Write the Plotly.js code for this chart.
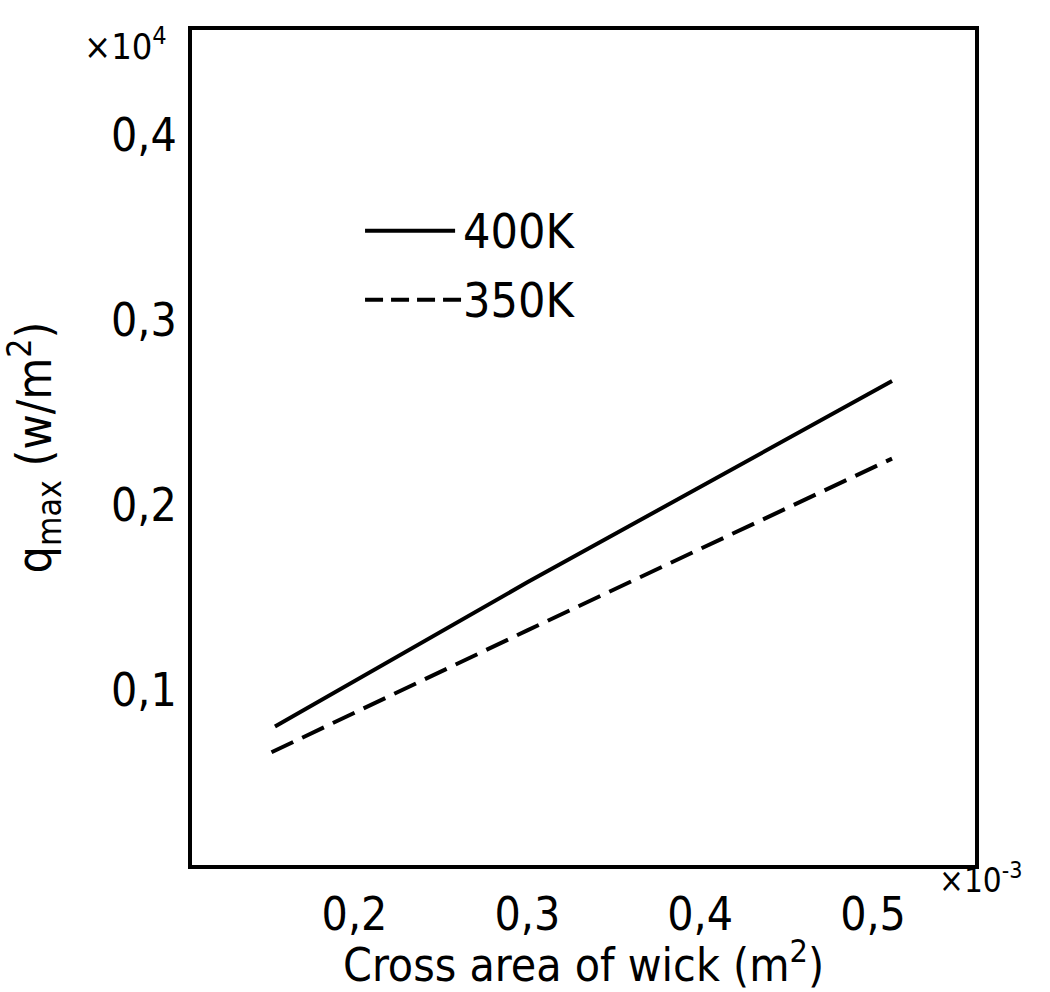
<!DOCTYPE html>
<html>
<head>
<meta charset="utf-8">
<script src="https://cdn.plot.ly/plotly-3.0.1.min.js"></script>
<style>html,body{margin:0;padding:0;background:#fff;}#chart{width:1050px;height:992px;}</style>
</head>
<body>
<div id="chart"></div>
<script>
// Data (x in 10^-3 m^2, y in 10^4 W/m^2)
const seriesNames = ["400K", "350K"];
const x400 = [0.154, 0.30, 0.511];
const y400 = [0.080, 0.158, 0.267];
const x350 = [0.152, 0.30, 0.511];
const y350 = [0.066, 0.132, 0.225];
const xTickVals = [0.2, 0.3, 0.4, 0.5];
const xTickText = ["0,2", "0,3", "0,4", "0,5"];
const yTickVals = [0.1, 0.2, 0.3, 0.4];
const yTickText = ["0,1", "0,2", "0,3", "0,4"];

const FONT = "DejaVu Sans Condensed, DejaVu Sans, sans-serif";

const traces = [
  {x: x400, y: y400, mode: "lines", name: seriesNames[0],
   line: {color: "#000", width: 4}, showlegend: false},
  {x: x350, y: y350, mode: "lines", name: seriesNames[1],
   line: {color: "#000", width: 4, dash: "24px,10px"}, showlegend: false}
];

const layout = {
  width: 1050, height: 992,
  margin: {l: 192, r: 75, t: 30, b: 127},
  paper_bgcolor: "#fff", plot_bgcolor: "#fff",
  font: {family: FONT, color: "#000", size: 32},
  xaxis: {
    range: [0.106, 0.559], showgrid: false, zeroline: false,
    showline: true, mirror: true, linecolor: "#000", linewidth: 4,
    ticks: "", tickvals: xTickVals, ticktext: xTickText,
    tickfont: {size: 46, family: FONT}, ticklabelstandoff: 6,
    title: {text: "Cross area of wick (m<sup>2</sup>)", font: {size: 46, family: FONT}, standoff: 8}
  },
  yaxis: {
    range: [0.005, 0.457], showgrid: false, zeroline: false,
    showline: true, mirror: true, linecolor: "#000", linewidth: 4,
    ticks: "", tickvals: yTickVals, ticktext: yTickText,
    tickfont: {size: 46, family: FONT}, ticklabelstandoff: 2,
    title: {text: "q<sub>max</sub> (w/m<sup>2</sup>)", font: {size: 48, family: FONT}, standoff: 50}
  },
  shapes: [
    {type: "line", xref: "paper", yref: "paper", x0: 0.221, x1: 0.336, y0: 0.7595, y1: 0.7595,
     line: {color: "#000", width: 4}},
    {type: "line", xref: "paper", yref: "paper", x0: 0.221, x1: 0.345, y0: 0.677, y1: 0.677,
     line: {color: "#000", width: 4, dash: "18px,8px"}}
  ],
  annotations: [
    {xref: "paper", yref: "paper", x: 0.343, y: 0.7595, xanchor: "left", yanchor: "middle",
     text: seriesNames[0], showarrow: false, font: {size: 48, family: FONT}},
    {xref: "paper", yref: "paper", x: 0.343, y: 0.677, xanchor: "left", yanchor: "middle",
     text: seriesNames[1], showarrow: false, font: {size: 48, family: FONT}},
    {xref: "paper", yref: "paper", x: -0.03, y: 1.0, xanchor: "right", yanchor: "middle",
     text: "×10<sup>4</sup>", showarrow: false, font: {size: 36, family: FONT}, yshift: -14},
    {xref: "paper", yref: "paper", x: 1.0, y: 0.0, xanchor: "left", yanchor: "top",
     text: "×10<sup>-3</sup>", showarrow: false, font: {size: 33, family: FONT}, xshift: -38, yshift: 10}
  ]
};

Plotly.newPlot("chart", traces, layout, {displayModeBar: false, staticPlot: true});
</script>
</body>
</html>
